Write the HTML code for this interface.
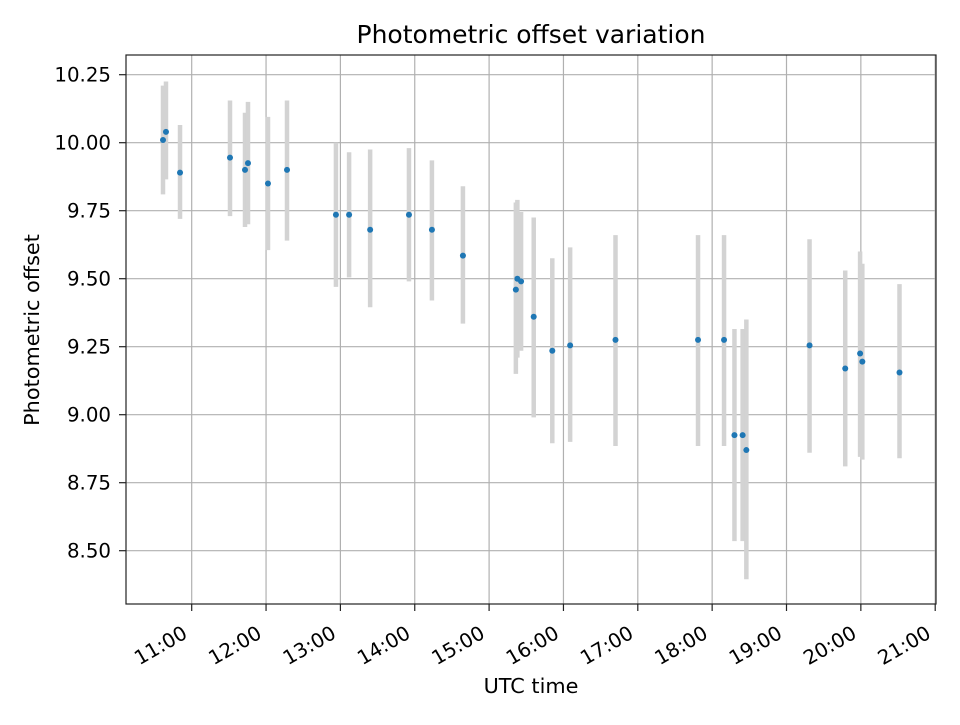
<!DOCTYPE html>
<html><head><meta charset="utf-8"><style>
body{margin:0;background:#fff}
svg text{font-family:"DejaVu Sans","Liberation Sans",sans-serif;fill:#000}
</style></head><body>
<svg id="chart" width="960" height="720" viewBox="0 0 960 720">
<rect width="960" height="720" fill="#fff"/>
<g id="grid"></g><g id="bars"></g><g id="pts"></g><g id="axes"></g>
<text x="531" y="43" font-size="25" text-anchor="middle">Photometric offset variation</text>
<text x="531" y="693" font-size="20.8" text-anchor="middle">UTC time</text>
<text transform="translate(39,330) rotate(-90)" font-size="20.8" text-anchor="middle">Photometric offset</text>
</svg>
<script>
const times=[10.614,10.654,10.843,11.515,11.717,11.757,12.026,12.282,12.94,13.117,13.40,13.922,14.231,14.648,15.36,15.38,15.43,15.60,15.85,16.09,16.70,17.81,18.16,18.30,18.41,18.46,19.31,19.79,19.99,20.02,20.52];
const offsets=[10.01,10.04,9.89,9.945,9.90,9.925,9.85,9.90,9.735,9.735,9.68,9.735,9.68,9.585,9.46,9.50,9.49,9.36,9.235,9.255,9.275,9.275,9.275,8.925,8.925,8.87,9.255,9.17,9.225,9.195,9.155];
const upper=[10.21,10.225,10.065,10.155,10.11,10.15,10.095,10.155,10.0,9.965,9.975,9.98,9.935,9.84,9.78,9.79,9.745,9.725,9.575,9.615,9.66,9.66,9.66,9.315,9.315,9.35,9.645,9.53,9.60,9.555,9.48];
const lower=[9.81,9.865,9.72,9.73,9.69,9.70,9.605,9.64,9.47,9.505,9.395,9.49,9.42,9.335,9.15,9.21,9.235,8.99,8.895,8.90,8.885,8.885,8.885,8.535,8.535,8.395,8.86,8.81,8.845,8.835,8.84];
const yTicks=[8.50,8.75,9.00,9.25,9.50,9.75,10.00,10.25];
const xTicks=[11,12,13,14,15,16,17,18,19,20,21];
const xTickLabels=["11:00","12:00","13:00","14:00","15:00","16:00","17:00","18:00","19:00","20:00","21:00"];
const L=126,T=55,R=936,B=604;
const xs=h=>191.7+(h-11)*74.35;
const ys=v=>142.7-(v-10)*272;
const NS="http://www.w3.org/2000/svg";
function mk(tag,attrs,parent){const e=document.createElementNS(NS,tag);for(const k in attrs)e.setAttribute(k,attrs[k]);parent.appendChild(e);return e;}
const grid=document.getElementById('grid'),bars=document.getElementById('bars'),pts=document.getElementById('pts'),axes=document.getElementById('axes');
yTicks.forEach(v=>{const y=ys(v);
 const g=mk('line',{x1:L,x2:R,y1:y,y2:y,stroke:'#b0b0b0','stroke-width':1.2},grid);
 
 
 mk('line',{x1:L-7,x2:L,y1:y,y2:y,stroke:'#222','stroke-width':1.2},axes);
 const t=mk('text',{x:L-15,y:y+7,'font-size':19.8,'text-anchor':'end'},axes);t.textContent=v.toFixed(2);
 
 
});
xTicks.forEach((h,i)=>{const x=xs(h);
 const g=mk('line',{x1:x,x2:x,y1:T,y2:B,stroke:'#b0b0b0','stroke-width':1.2},grid);
 
 
 mk('line',{x1:x,x2:x,y1:B,y2:B+7,stroke:'#222','stroke-width':1.2},axes);
 const t=mk('text',{transform:`translate(${x-3},${B+33}) rotate(-30)`,'font-size':19.8,'text-anchor':'end'},axes);t.textContent=xTickLabels[i];
 
 
});
const fr=mk('rect',{x:L,y:T,width:R-L,height:B-T,fill:'none',stroke:'#222','stroke-width':1.2},axes);


times.forEach((h,i)=>{const x=xs(h);
 const b=mk('line',{x1:x,x2:x,y1:ys(upper[i]),y2:ys(lower[i]),stroke:'#d3d3d3','stroke-width':4.5},bars);
 
 
 const c=mk('circle',{cx:x,cy:ys(offsets[i]),r:3,fill:'#1f77b4'},pts);
 
 
});
</script>
</body></html>
